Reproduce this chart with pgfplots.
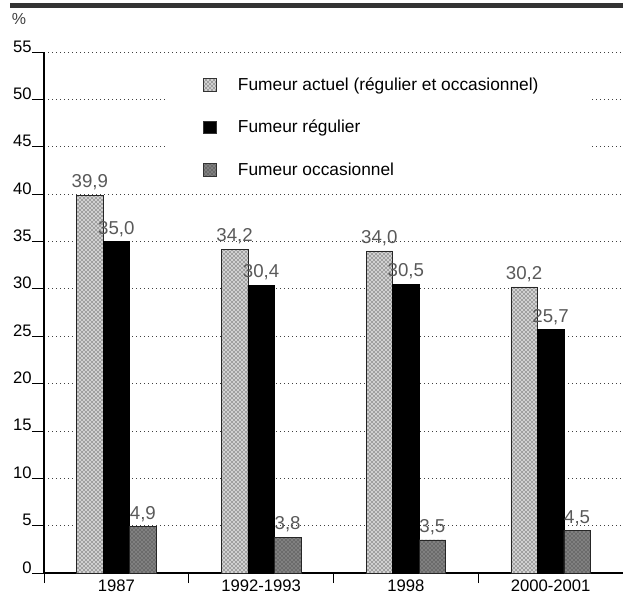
\documentclass[border=0pt]{standalone}
\usepackage{pgfplots}
\pgfplotsset{compat=1.18}
\usepackage{fontspec}
\setmainfont{Liberation Sans}
\usetikzlibrary{patterns}

\pgfplotsset{
  /pgf/number format/assume math mode=true,
  legbox/.style={legend image code/.code={
      \draw[##1, draw=black!80, line width=0.4pt] (0pt,-4.5pt) rectangle (9.5pt,5pt);}},
}

\begin{document}
\begin{tikzpicture}
\path[use as bounding box] (-33pt,-15.75pt) rectangle (434.25pt,429.75pt);
\begin{axis}[
    at={(0pt,0pt)}, anchor=south west,
    scale only axis,
    width=434.25pt, height=390.75pt,
    xmin=-0.5, xmax=3.5,
    ymin=0, ymax=55,
    ytick={0,5,...,55},
    xtick={0,1,2,3},
    xticklabels={1987,1992-1993,1998,2000-2001},
    minor xtick={-0.5,0.5,1.5,2.5},
    axis x line=bottom, axis y line=left,
    axis line style={-, line width=1pt, black},
    tick align=outside,
    major tick length=9pt,
    minor tick length=7.5pt,
    xtick style={draw=none},
    minor x tick style={draw=black, line width=0.6pt},
    ytick style={black, line width=0.6pt},
    ymajorgrids,
    grid style={black!75, line width=0.6pt, dash pattern=on 1pt off 2pt},
    tick label style={font=\fontsize{12.5}{14}\selectfont},
    yticklabel style={anchor=base east, inner sep=0pt, xshift=0pt},
    xticklabel style={anchor=base, inner sep=0pt, yshift=-4.75pt},
    ybar=0pt,
    bar width=0.183,
    nodes near coords,
    nodes near coords style={font=\fontsize{14}{16}\selectfont, text=black!65,
        /pgf/number format/.cd, use comma, fixed, fixed zerofill, precision=1},
    legend style={at={(0.268,0.962)}, anchor=north west, draw=none, fill=none,
        font=\fontsize{13}{15}\selectfont, row sep=17pt,
        /tikz/every even column/.append style={column sep=0pt}},
    legend cell align=left,
    legbox,
]
\fill[white] (rel axis cs:0.209,0.745) rectangle (rel axis cs:0.943,0.985);

\addplot[draw=black!85, line width=0.4pt, fill=black!18,
    postaction={pattern=crosshatch dots, pattern color=black}]
  coordinates {(0,39.9) (1,34.2) (2,34.0) (3,30.2)};
\addplot[draw=black, line width=0.4pt, fill=black]
  coordinates {(0,35.0) (1,30.4) (2,30.5) (3,25.7)};
\addplot[draw=black!85, line width=0.4pt, fill=black!50,
    postaction={pattern=crosshatch dots, pattern color=black!85}]
  coordinates {(0,4.9) (1,3.8) (2,3.5) (3,4.5)};
\legend{\hspace{14pt}Fumeur actuel (régulier et occasionnel),
        \hspace{14pt}Fumeur régulier,
        \hspace{14pt}Fumeur occasionnel}
\end{axis}
\fill[black!80] (-25.5pt,423.75pt) rectangle (434.25pt,427.5pt);
\node[font=\fontsize{12}{14}\selectfont, text=black!75] at (-18.75pt,415.5pt) {\%};
\end{tikzpicture}
\end{document}
